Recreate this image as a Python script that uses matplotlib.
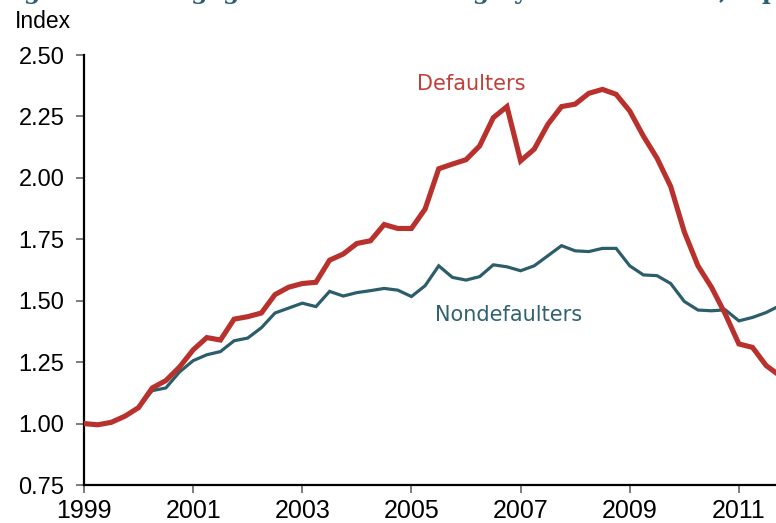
import numpy as np
import matplotlib
matplotlib.use("Agg")
import matplotlib.pyplot as plt
from matplotlib import font_manager

# ---- data (quarterly index, 1999Q1 = 1.00) ----
start_year = 1999
defaulters = [1.00, 0.995, 1.005, 1.03, 1.065, 1.145, 1.175, 1.23, 1.30, 1.35,
              1.34, 1.425, 1.435, 1.45, 1.525, 1.555, 1.57, 1.575, 1.665, 1.69,
              1.733, 1.744, 1.81, 1.794, 1.794, 1.873, 2.037, 2.056, 2.074, 2.13,
              2.245, 2.29, 2.069, 2.117, 2.218, 2.29, 2.30, 2.344, 2.36, 2.34,
              2.272, 2.17, 2.08, 1.965, 1.78, 1.642, 1.554, 1.446, 1.324, 1.31,
              1.236, 1.195]
nondefaulters = [1.00, 0.995, 1.005, 1.03, 1.065, 1.134, 1.145, 1.21, 1.256, 1.28,
                 1.293, 1.337, 1.348, 1.39, 1.45, 1.47, 1.49, 1.476, 1.538, 1.519,
                 1.533, 1.541, 1.55, 1.543, 1.517, 1.561, 1.642, 1.595, 1.584, 1.598,
                 1.646, 1.638, 1.622, 1.642, 1.683, 1.724, 1.703, 1.70, 1.713, 1.713,
                 1.642, 1.605, 1.602, 1.57, 1.497, 1.462, 1.459, 1.463, 1.418, 1.432,
                 1.452, 1.48]
x_ticks = [1999, 2001, 2003, 2005, 2007, 2009, 2011]
y_ticks = [0.75, 1.00, 1.25, 1.50, 1.75, 2.00, 2.25, 2.50]
series_labels = ["Defaulters", "Nondefaulters"]

RED = "#b8312c"
TEAL = "#2c5d6b"

available = {f.name for f in font_manager.fontManager.ttflist}
narrow = "Liberation Sans Narrow" if "Liberation Sans Narrow" in available else "Liberation Sans"

quarters = start_year + np.arange(len(defaulters)) / 4.0

fig = plt.figure(figsize=(7.76, 5.23), dpi=100)
ax = fig.add_axes([84 / 776, 1 - 485 / 523, 1 - 84 / 776, (485 - 55) / 523])

ax.plot(quarters, nondefaulters, color=TEAL, lw=2.3, solid_joinstyle="miter", zorder=3)
ax.plot(quarters, defaulters, color=RED, lw=3.7, solid_joinstyle="miter", zorder=4)

ax.set_xlim(1999, 2011.68)
ax.set_ylim(0.75, 2.50)
ax.set_xticks(x_ticks)
ax.set_xticklabels([str(t) for t in x_ticks], family=narrow, fontsize=18)
ax.set_yticks(y_ticks)
ax.set_yticklabels([f"{t:.2f}" for t in y_ticks], family="Liberation Sans", fontsize=17)

for s in ["top", "right"]:
    ax.spines[s].set_visible(False)
for s in ["left", "bottom"]:
    ax.spines[s].set_linewidth(1.6)
    ax.spines[s].set_color("black")
ax.tick_params(axis="y", direction="out", length=6, width=1.2, color="#666666", pad=8)
ax.tick_params(axis="x", direction="out", length=6, width=1.2, color="#666666", pad=4)

ax.text(2006.1, 2.38, series_labels[0], color="#c0403a", fontsize=15,
        family="DejaVu Sans", ha="center", va="center")
ax.text(2006.78, 1.44, series_labels[1], color="#30636f", fontsize=15,
        family="DejaVu Sans", ha="center", va="center")

fig.text(15 / 776, 1 - 21 / 523, "Index", family=narrow, fontsize=16.5, ha="left", va="center")

fig.text(-2 / 776, 1 + 1 / 523, "Figure 2. Mortgage debt outstanding by default status, top quartile",
         family="DejaVu Serif", fontweight="bold", color="#2b5f73", fontsize=17,
         ha="left", va="baseline")

fig.savefig("out.png", dpi=100)
